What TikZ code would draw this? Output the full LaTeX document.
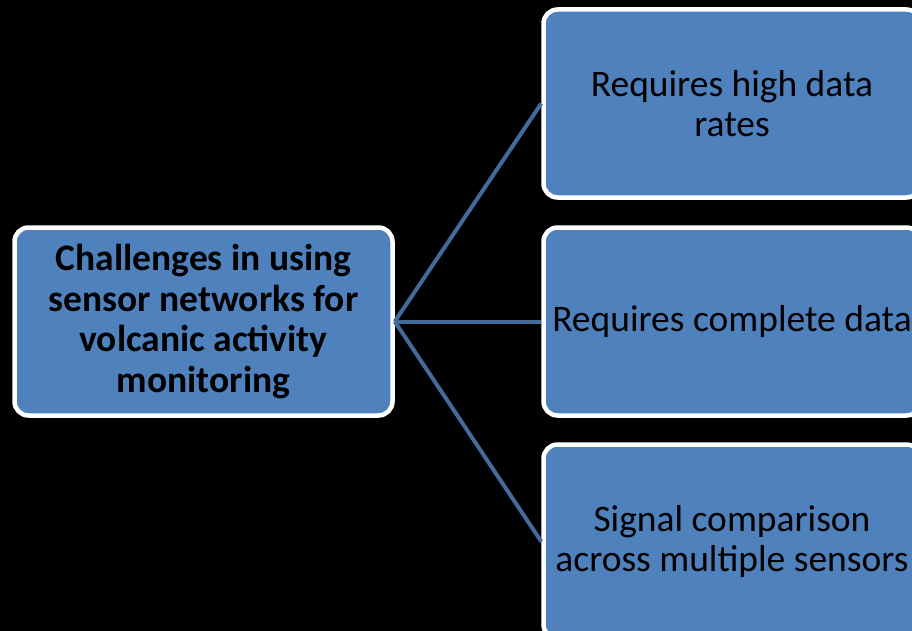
\documentclass[tikz,border=0pt]{standalone}
\usepackage{fontspec}
\setmainfont{Carlito}
\definecolor{boxfill}{HTML}{4F81BD}
\definecolor{conn}{HTML}{44699B}
\begin{document}
\begin{tikzpicture}[x=1pt,y=-1pt,
  box/.style={draw=white, line width=4.5pt, fill=boxfill, rounded corners=14pt,
    minimum width=378pt, minimum height=188pt, inner sep=0pt, align=center,
    font=\fontsize{37.5}{40.5}\selectfont, text=black},
  rbox/.style={box, minimum width=377pt},
  link/.style={draw=conn, line width=4pt}]
\fill[black] (0,0) rectangle (912,631);
\useasboundingbox (0,0) rectangle (912,631);
\clip (0,0) rectangle (912,631);
\node[box, font=\fontsize{37.5}{40.5}\selectfont\bfseries] (main) at (203.5,321.5)
  {Challenges in using\\sensor networks for\\volcanic activity\\monitoring};
\node[rbox] (r1) at (732,103.5) {Requires high data\\rates};
\node[rbox] (r2) at (732,321.5) {Requires complete data};
\node[rbox, minimum height=194pt] (r3) at (732,541.5) {Signal comparison\\across multiple sensors};
\draw[link] (main.east) -- (r1.west);
\draw[link] (main.east) -- (r2.west);
\draw[link] (main.east) -- (r3.west);
\end{tikzpicture}
\end{document}
